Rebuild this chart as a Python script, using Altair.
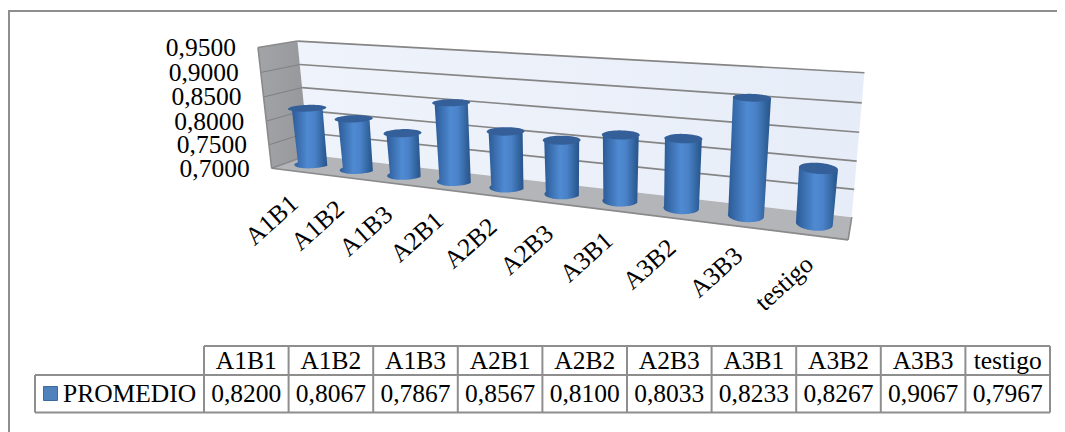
import numpy as np
import pandas as pd
import altair as alt

CATEGORIES = ["A1B1", "A1B2", "A1B3", "A2B1", "A2B2", "A2B3", "A3B1", "A3B2", "A3B3", "testigo"]
PROMEDIO = [0.8200, 0.8067, 0.7867, 0.8567, 0.8100, 0.8033, 0.8233, 0.8267, 0.9067, 0.7967]
Y_TICKS = [0.70, 0.75, 0.80, 0.85, 0.90, 0.95]
SERIES = "PROMEDIO"

FONT = "Liberation Serif"
W, H = 1049, 424
N = len(CATEGORIES)

# ---- perspective camera calibrated on the frame corners of the 3D box
calib = [
    (0, 0, 0, 271, 168), (10, 0, 0, 848, 241), (0, 1, 0, 309, 156), (10, 1, 0, 851, 216),
    (0, 1, 1, 297, 41), (10, 1, 1, 864, 73), (0, 0, 1, 258, 48),
    (0, 1, 0.4, 304.5, 110), (10, 1, 0.4, 858, 161), (0, 0, 0.4, 267, 120),
]
A, b = [], []
for u, v, w, px, py in calib:
    A.append([u, v, w, 1, 0, 0, 0, 0, -u * px, -v * px, -w * px]); b.append(px)
    A.append([0, 0, 0, 0, u, v, w, 1, -u * py, -v * py, -w * py]); b.append(py)
m = np.linalg.lstsq(np.array(A, float), np.array(b, float), rcond=None)[0]


def P(u, v, val):
    w = (val - 0.7) / 0.25
    d = m[8] * u + m[9] * v + m[10] * w + 1
    return np.array([(m[0] * u + m[1] * v + m[2] * w + m[3]) / d,
                     (m[4] * u + m[5] * v + m[6] * w + m[7]) / d])


X = alt.X("x:Q", scale=alt.Scale(domain=[8, 8 + W], range=[0, W]), axis=None)
Y = alt.Y("y:Q", scale=alt.Scale(domain=[8, 8 + H], range=[0, H]), axis=None)


def poly(groups, fill, stroke=None, sw=0):
    rows = []
    for g, pts in groups:
        for k, p in enumerate(pts):
            rows.append({"g": g, "k": k, "x": float(p[0]), "y": float(p[1])})
    kw = dict(fill=fill, interpolate="linear-closed", strokeWidth=sw, opacity=1)
    kw["stroke"] = stroke if stroke else "transparent"
    return alt.Chart(pd.DataFrame(rows)).mark_line(**kw).encode(
        x=X, y=Y, detail="g:N", order="k:Q")


def segs(rows, color, sw):
    df = pd.DataFrame(rows, columns=["x", "y", "x2", "y2"])
    return alt.Chart(df).mark_rule(color=color, strokeWidth=sw).encode(
        x=X, y=Y, x2="x2:Q", y2="y2:Q")


def grad(stops, x2=1, y2=0):
    return alt.Gradient(gradient="linear", x1=0, y1=0, x2=x2, y2=y2,
                        stops=[alt.GradientStop(offset=o, color=c) for o, c in stops])


layers = []
# frame of the chart area
layers.append(segs([(8, 11, 1057, 11), (9, 11, 9, 432)], "#8e8e8e", 2))

# walls and floor
lo, hi = Y_TICKS[0], Y_TICKS[-1]
layers.append(poly([("w", [P(0, 1, lo), P(0, 1, hi), P(N, 1, hi), P(N, 1, lo)])],
                   grad([(0, "#eff3fb"), (1, "#e7edf8")])))
layers.append(poly([("l", [P(0, 0, lo), P(0, 0, hi), P(0, 1, hi), P(0, 1, lo)])],
                   grad([(0, "#a3a4a8"), (1, "#96979b")])))
layers.append(poly([("f", [P(0, 0, lo), P(0, 1, lo), P(N, 1, lo), P(N, 0, lo)])], "#b3b5b9"))

grid = []
for t in Y_TICKS[1:]:
    a, c = P(0, 1, t), P(N, 1, t)
    grid.append((a[0], a[1], c[0], c[1]))
layers.append(segs(grid, "#858585", 1.7))
side = []
for t in Y_TICKS[1:-1]:
    a, c = P(0, 0, t), P(0, 1, t)
    side.append((a[0], a[1], c[0], c[1]))
layers.append(segs(side, "#7f8084", 1))
e0, e1, e2, e3 = P(0, 0, lo), P(N, 0, lo), P(N, 1, lo), P(0, 0, hi)
edges = [(e0[0], e0[1], e1[0], e1[1]), (e1[0], e1[1], e2[0], e2[1]),
         (e0[0], e0[1], P(0, 1, lo)[0], P(0, 1, lo)[1]),
         (e0[0], e0[1], e3[0], e3[1]),
         (e3[0], e3[1], P(0, 1, hi)[0], P(0, 1, hi)[1])]
layers.append(segs(edges, "#8a8a8a", 1.6))

# cylinders
RV = 0.3
bodies, tops = [], []
theta = np.linspace(0, np.pi, 25)
full = np.linspace(0, 2 * np.pi, 49)[:-1]


def frame(u, val, kr):
    c = P(u, 0.5, val)
    s = P(u, 0.5, hi)[1] - P(u, 0.5, lo)[1]
    along = P(u + 0.5, 0.5, val) - P(u - 0.5, 0.5, val)
    along = along / np.hypot(*along) * kr * s
    depth = (P(u, 0.5 - RV, val) - P(u, 0.5 + RV, val)) / 2
    return c, along, depth


for i, (name, val) in enumerate(zip(CATEGORIES, PROMEDIO)):
    u = i + 0.5
    ct, at, dt = frame(u, val, 0.132)
    cb, ab, db = frame(u, lo, 0.125)
    pts = [ct - at, ct + at]
    pts += [cb + np.cos(th) * ab + np.sin(th) * db for th in theta]
    bodies.append((name, pts))
    tops.append((name, [ct + np.cos(th) * at + np.sin(th) * dt for th in full]))

body_grad = grad([(0, "#2b5a94"), (0.12, "#3567a6"), (0.45, "#4f8ad2"),
                  (0.65, "#4a82c8"), (0.9, "#2f6099"), (1, "#28548c")])
for g in bodies:
    layers.append(poly([g], body_grad))
layers.append(poly(tops, "#345f99"))

# value-axis labels
ax = [dict(x=P(0, 0, t)[0] - 22, y=P(0, 0, t)[1] + 0.5, t=f"{t:.4f}".replace(".", ",")) for t in Y_TICKS]
layers.append(alt.Chart(pd.DataFrame(ax)).mark_text(
    font=FONT, fontSize=25.5, align="right", baseline="middle", color="#000000"
).encode(x=X, y=Y, text="t:N"))

# category labels
cat = []
for i, name in enumerate(CATEGORIES):
    u = i + 0.5
    f = P(u, 0, lo)
    cat.append(dict(x=f[0] + 0.5 - 0.2 * u, y=f[1] + 29 - 0.4 * u, t=name))
layers.append(alt.Chart(pd.DataFrame(cat)).mark_text(
    font=FONT, fontSize=25.5, align="right", baseline="middle", angle=318, color="#000000"
).encode(x=X, y=Y, text="t:N"))

# data table
TL, T0, TC, TR = 35, 204, 84.6, 1050
RT, RM, RB = 346, 375, 412.5
tb = [(T0, RT, TR, RT), (TL, RM, TR, RM), (TL, RB, TR, RB), (TL, RM, TL, RB)]
for k in range(N + 1):
    xk = T0 + k * TC
    tb.append((xk, RT, xk, RB))
layers.append(segs(tb, "#8e8e8e", 2))

cells = []
for k, (name, val) in enumerate(zip(CATEGORIES, PROMEDIO)):
    xc = T0 + (k + 0.5) * TC
    cells.append(dict(x=xc, y=361, t=name))
    cells.append(dict(x=xc, y=394, t=f"{val:.4f}".replace(".", ",")))
layers.append(alt.Chart(pd.DataFrame(cells)).mark_text(
    font=FONT, fontSize=25.5, align="center", baseline="middle", color="#000000"
).encode(x=X, y=Y, text="t:N"))
layers.append(alt.Chart(pd.DataFrame([dict(x=63, y=394, t=SERIES)])).mark_text(
    font=FONT, fontSize=25.5, align="left", baseline="middle", color="#000000"
).encode(x=X, y=Y, text="t:N"))
layers.append(alt.Chart(pd.DataFrame([dict(x=50.5, y=393.5)])).mark_square(
    size=196, fill="#4f81bd", stroke="#3c6a9f", strokeWidth=1, opacity=1
).encode(x=X, y=Y))

chart = alt.layer(*layers).properties(
    width=W, height=H, padding=0, autosize=alt.AutoSizeParams(type="none"),
    background="#ffffff"
).configure_view(stroke=None)

chart.save("out.html", embed_options={"renderer": "svg", "actions": False})
